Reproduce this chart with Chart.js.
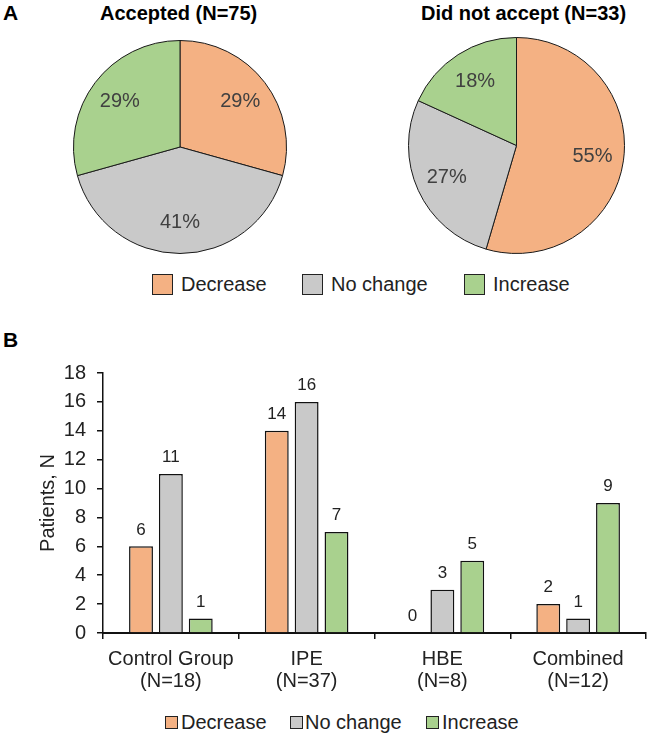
<!DOCTYPE html>
<html>
<head>
<meta charset="utf-8">
<script src="https://cdn.jsdelivr.net/npm/chart.js@4.4.1/dist/chart.umd.min.js"></script>
<style>
body{margin:0;background:#fff;font-family:"Liberation Sans",Arial,sans-serif;}
#wrap{position:relative;width:649px;height:735px;overflow:hidden;}
canvas,.t{position:absolute;}
.t{white-space:nowrap;color:#000;}
.lbl{font-weight:bold;font-size:21px;}
.ttl{font-weight:bold;font-size:20px;}
.leg{font-size:20px;color:#222;}
.box{position:absolute;border:1px solid #222;box-sizing:border-box;}
</style>
</head>
<body>
<div id="wrap">
<div class="t lbl" style="left:3px;top:1px">A</div>
<div class="t lbl" style="left:3px;top:328px">B</div>
<div class="t ttl" id="t1" style="left:100px;top:2px">Accepted (N=75)</div>
<div class="t ttl" id="t2" style="left:421px;top:2px">Did not accept (N=33)</div>
<canvas id="pie1" width="214" height="214" style="left:73px;top:40px"></canvas>
<canvas id="pie2" width="217" height="217" style="left:408px;top:37px"></canvas>
<div id="legPie"></div>
<canvas id="bars" width="649" height="350" style="left:0;top:350px"></canvas>
<div id="legBar"></div>
</div>
<script>
let categorias=["Decrease","No change","Increase"];
let cores=["#F4B183","#C9C9C9","#A9D18E"];
let aceitou=[22,31,22];
let naoAceitou=[18,9,6];
let grupos=[["Control Group","(N=18)"],["IPE","(N=37)"],["HBE","(N=8)"],["Combined","(N=12)"]];
let diminuiu=[6,14,0,2];
let semMudanca=[11,16,3,1];
let aumentou=[1,7,5,9];
let ticksY=[0,2,4,6,8,10,12,14,16,18];

let fonte='"Liberation Sans", Arial, sans-serif';

// rotulos de porcentagem dentro da pizza
let rotulosPizza={
id:'rotulosPizza',
afterDatasetsDraw(chart){
let ctx=chart.ctx;
let ds=chart.data.datasets[0];
let total=ds.data.reduce((a,b)=>a+b,0);
chart.getDatasetMeta(0).data.forEach((arc,i)=>{
let p=arc.getProps(['x','y','startAngle','endAngle','outerRadius'],true);
let meio=(p.startAngle+p.endAngle)/2;
let r=p.outerRadius*0.71;
ctx.save();
ctx.font='20px '+fonte;
ctx.fillStyle='#404040';
ctx.textAlign='center';
ctx.textBaseline='middle';
ctx.fillText(Math.round(ds.data[i]/total*100)+'%',p.x+Math.cos(meio)*r,p.y+Math.sin(meio)*r);
ctx.restore();
});
}
};

// valores acima das barras
let rotulosBarras={
id:'rotulosBarras',
afterDatasetsDraw(chart){
let ctx=chart.ctx;
chart.data.datasets.forEach((ds,d)=>{
chart.getDatasetMeta(d).data.forEach((bar,i)=>{
ctx.save();
ctx.font='17px '+fonte;
ctx.fillStyle='#222';
ctx.textAlign='center';
ctx.textBaseline='bottom';
ctx.fillText(ds.data[i],bar.x,bar.y-8);
ctx.restore();
});
});
}
};

function criarPizza(id,valores){
return new Chart(document.getElementById(id),{
type:'pie',
data:{labels:categorias,datasets:[{data:valores,backgroundColor:cores,borderColor:'#1a1a1a',borderWidth:1}]},
options:{
responsive:false,animation:false,devicePixelRatio:1,
layout:{padding:0},
plugins:{legend:{display:false},tooltip:{enabled:false}}
},
plugins:[rotulosPizza]
});
}

criarPizza('pie1',aceitou);
criarPizza('pie2',naoAceitou);

new Chart(document.getElementById('bars'),{
type:'bar',
data:{
labels:grupos,
datasets:[
{label:categorias[0],data:diminuiu,backgroundColor:cores[0],borderColor:'#111',borderWidth:1.5},
{label:categorias[1],data:semMudanca,backgroundColor:cores[1],borderColor:'#111',borderWidth:1.5},
{label:categorias[2],data:aumentou,backgroundColor:cores[2],borderColor:'#111',borderWidth:1.5}
]
},
options:{
responsive:false,animation:false,devicePixelRatio:1,
layout:{padding:{top:18,right:3,left:0,bottom:0}},
categoryPercentage:0.66,
barPercentage:0.8,
plugins:{legend:{display:false},tooltip:{enabled:false}},
scales:{
x:{
afterFit:s=>{s.height=67},
border:{color:'#111',width:2},
grid:{offset:true,drawOnChartArea:false,drawTicks:true,tickLength:6,color:'#111',lineWidth:1.5},
ticks:{color:'#222',padding:9,maxRotation:0,font:{family:fonte,size:20,lineHeight:1.1}}
},
y:{
min:0,max:18,
afterFit:s=>{s.width=103},
afterBuildTicks:s=>{s.ticks=ticksY.map(v=>({value:v}))},
border:{color:'#111',width:1.5},
grid:{drawOnChartArea:false,drawTicks:true,tickLength:6,color:'#111',lineWidth:1.5},
ticks:{color:'#222',padding:11,font:{family:fonte,size:20}},
title:{display:true,text:'Patients, N',color:'#222',font:{family:fonte,size:20},padding:{top:36,bottom:0}}
}
}
},
plugins:[rotulosBarras]
});

// legendas em html
function legenda(el,itens){
let c=document.getElementById(el);
itens.forEach(it=>{
let b=document.createElement('div');
b.className='box';
b.style.cssText+=`left:${it.bx}px;top:${it.by}px;width:${it.bs}px;height:${it.bs}px;background:${it.cor}`;
c.appendChild(b);
let t=document.createElement('div');
t.className='t leg';
t.style.left=it.tx+'px';
t.style.top=it.ty+'px';
t.textContent=it.nome;
c.appendChild(t);
});
}

legenda('legPie',[
{nome:categorias[0],cor:cores[0],bx:152,by:274,bs:21,tx:181,ty:273},
{nome:categorias[1],cor:cores[1],bx:302,by:274,bs:21,tx:331,ty:273},
{nome:categorias[2],cor:cores[2],bx:464,by:274,bs:21,tx:493,ty:273}
]);
legenda('legBar',[
{nome:categorias[0],cor:cores[0],bx:165,by:716,bs:13,tx:181,ty:711},
{nome:categorias[1],cor:cores[1],bx:290,by:716,bs:13,tx:305,ty:711},
{nome:categorias[2],cor:cores[2],bx:426,by:716,bs:13,tx:442,ty:711}
]);
</script>
</body>
</html>
